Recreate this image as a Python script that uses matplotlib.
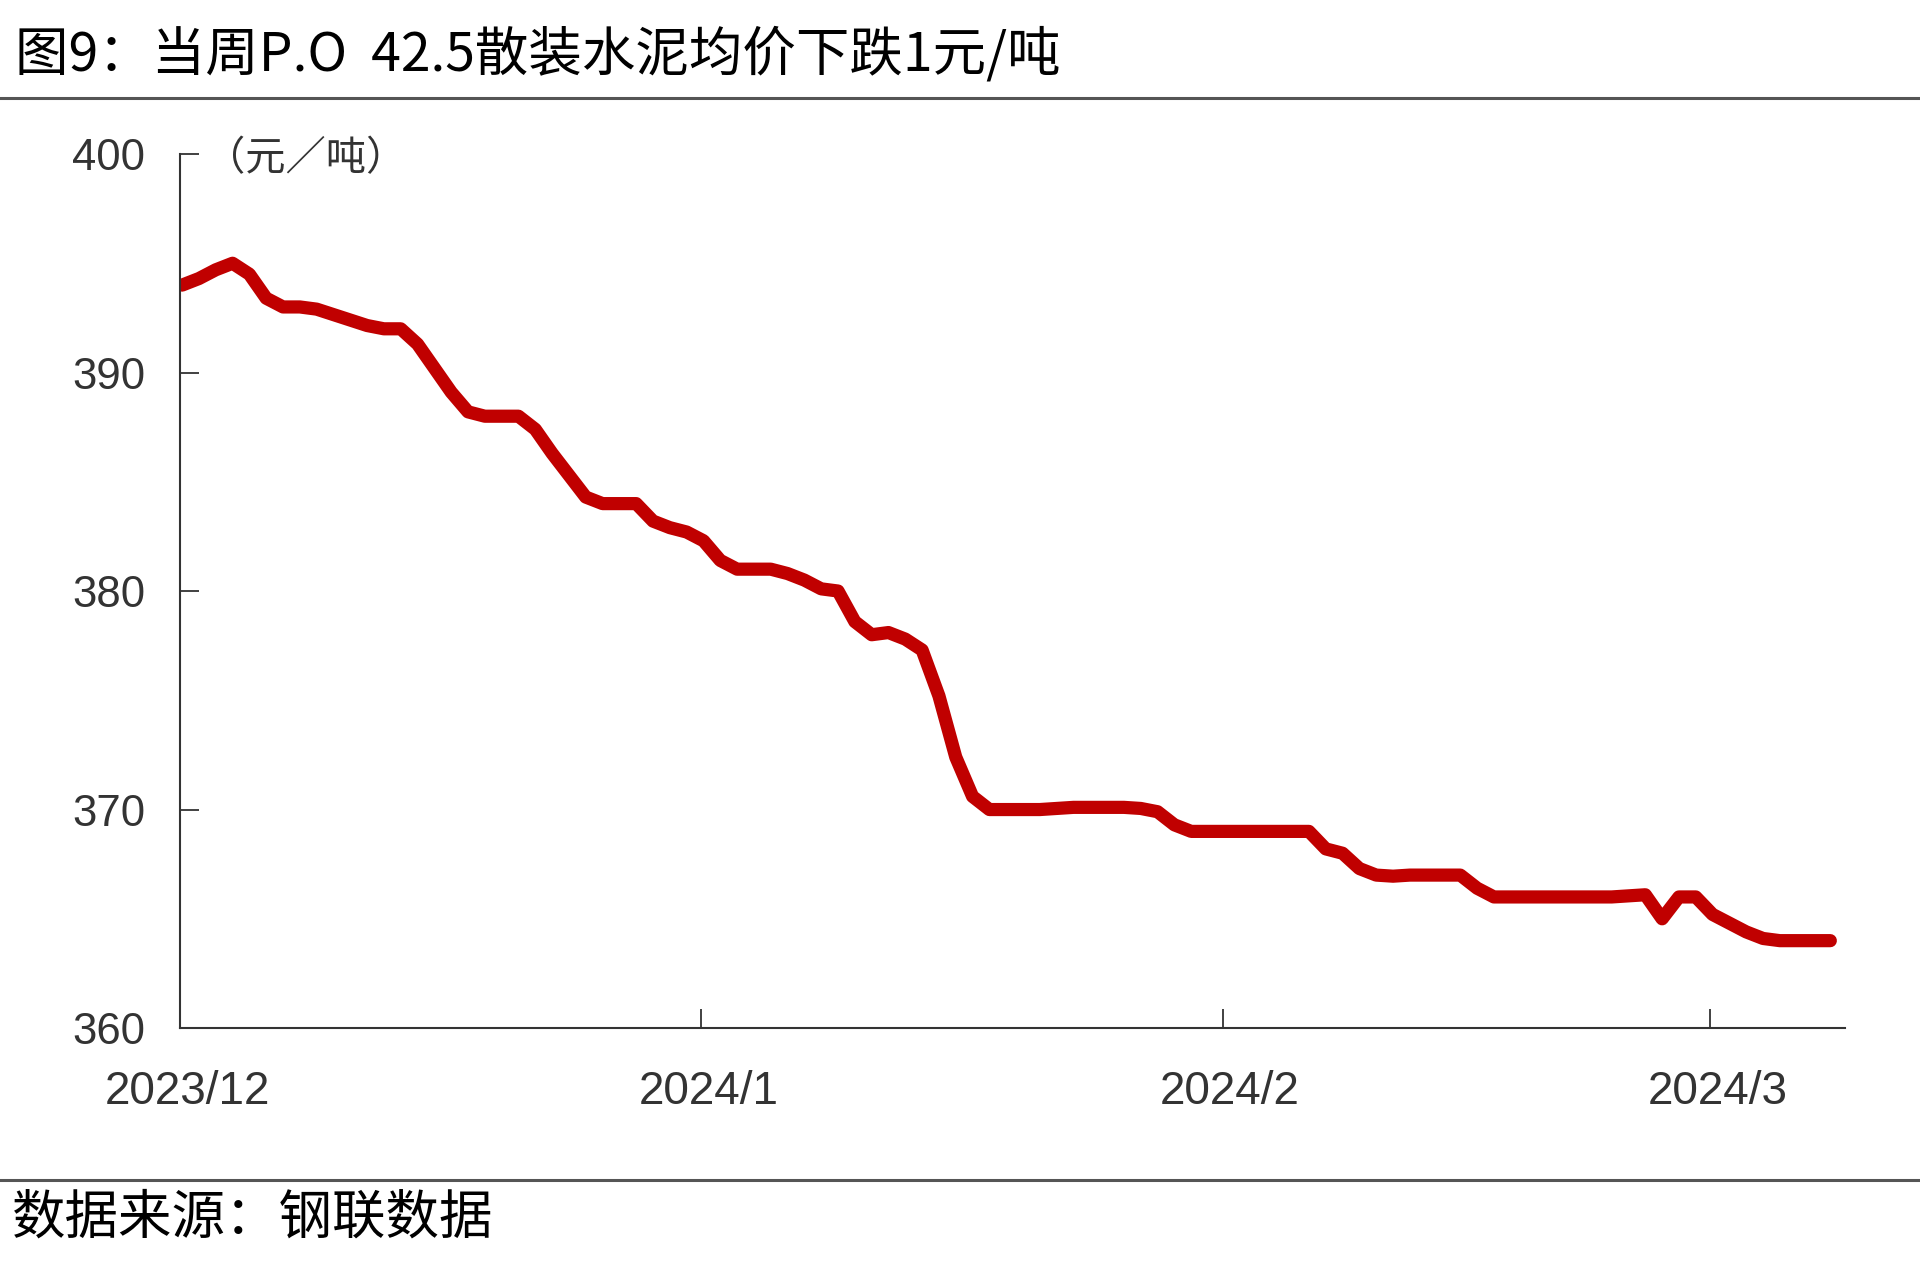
# weekly P.O 42.5 bulk cement average price, daily line
import datetime as dt
import matplotlib
matplotlib.use("Agg")
import matplotlib.pyplot as plt
import matplotlib.dates as mdates
import matplotlib.transforms as mtransforms
from matplotlib.ticker import FuncFormatter
from matplotlib.lines import Line2D

plt.rcParams['font.family'] = ['Noto Sans CJK SC', 'DejaVu Sans']

# data (yuan/ton), one value per day from 2023-12-01
start = dt.datetime(2023, 12, 1, 3)
prices = [
	394.0, 394.3, 394.7, 395.0, 394.5, 393.4, 393.0, 393.0, 392.9, 392.65,
	392.4, 392.15, 392.0, 392.0, 391.3, 390.2, 389.1, 388.2, 388.0, 388.0,
	388.0, 387.4, 386.3, 385.3, 384.3, 384.0, 384.0, 384.0, 383.2, 382.9,
	382.7, 382.3, 381.4, 381.0, 381.0, 381.0, 380.8, 380.5, 380.1, 380.0,
	378.6, 378.0, 378.1, 377.8, 377.3, 375.2, 372.4, 370.6, 370.0, 370.0,
	370.0, 370.0, 370.05, 370.1, 370.1, 370.1, 370.1, 370.05, 369.9, 369.3,
	369.0, 369.0, 369.0, 369.0, 369.0, 369.0, 369.0, 369.0, 368.2, 368.0,
	367.3, 367.0, 366.95, 367.0, 367.0, 367.0, 367.0, 366.4, 366.0, 366.0,
	366.0, 366.0, 366.0, 366.0, 366.0, 366.0, 366.05, 366.1, 365.0, 366.0,
	366.0, 365.2, 364.8, 364.4, 364.1, 364.0, 364.0, 364.0, 364.0,
]
dates = [start + dt.timedelta(days=i) for i in range(len(prices))]

title = "图9：当周P.O  42.5散装水泥均价下跌1元/吨"
source = "数据来源：钢联数据"
unit = "（元／吨）"
yticks = [360, 370, 380, 390, 400]

fig = plt.figure(figsize=(19.2, 12.79), dpi=100)
ax = fig.add_axes([0.09375, 0.1962, 0.8672, 0.6834])

ax.plot(dates, prices, color="#C00000", lw=9.5, solid_capstyle="round",
	solid_joinstyle="round")

ax.set_ylim(360, 400)
ax.set_yticks(yticks)
ax.set_xlim(dt.date(2023, 12, 1), dt.date(2024, 3, 9))
ax.xaxis.set_major_locator(mdates.MonthLocator())
ax.xaxis.set_major_formatter(FuncFormatter(
	lambda v, p: "%d/%d" % (mdates.num2date(v).year, mdates.num2date(v).month)))

for s in ["top", "right"]:
	ax.spines[s].set_visible(False)
for s in ["left", "bottom"]:
	ax.spines[s].set_color("#333333")
	ax.spines[s].set_linewidth(1.5)

ax.tick_params(axis="both", direction="in", length=14, width=1.3,
	color="#333333", labelcolor="#333333")
ax.tick_params(axis="y", pad=25)
ax.tick_params(axis="x", pad=30)
shift = mtransforms.ScaledTranslation(0.07, 0, fig.dpi_scale_trans)
for lab in ax.get_xticklabels():
	lab.set_family(["Liberation Sans", "DejaVu Sans"])
	lab.set_fontsize(33)
	lab.set_transform(lab.get_transform() + shift)
for lab in ax.get_yticklabels():
	lab.set_family(["Liberation Sans", "DejaVu Sans"])
	lab.set_fontsize(31.5)

ax.text(0.015, 0.995, unit, transform=ax.transAxes, fontsize=29,
	color="#333333", ha="left", va="center")

# header, footer and rules
fig.text(0.008, 0.957, title, fontsize=38.5, color="black", ha="left",
	va="center")
fig.add_artist(Line2D([0, 1], [1 - 98 / 1279, 1 - 98 / 1279],
	color="#555555", lw=2.2, transform=fig.transFigure))
fig.add_artist(Line2D([0, 1], [1 - 1180 / 1279, 1 - 1180 / 1279],
	color="#555555", lw=2.2, transform=fig.transFigure))
fig.text(0.006, 0.048, source, fontsize=38.5, color="black", ha="left",
	va="center")

fig.savefig("out.png", dpi=100)
